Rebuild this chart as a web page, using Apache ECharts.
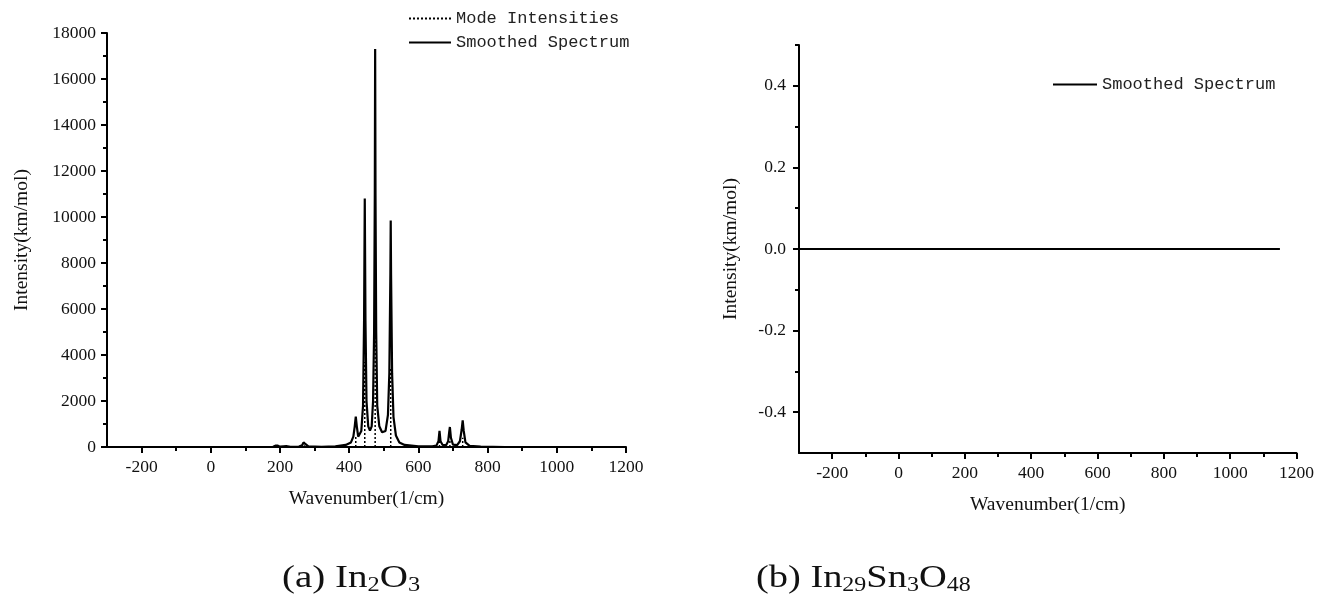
<!DOCTYPE html>
<html>
<head>
<meta charset="utf-8">
<script src="https://cdn.jsdelivr.net/npm/echarts@6/dist/echarts.min.js"></script>
<style>html,body{margin:0;padding:0;background:#fff}#c{width:1317px;height:614px}</style>
</head>
<body>
<div id="c"></div>
<script>
// ---- data (a) In2O3 ----
const specX = [-300,150,180,188,191,194,200,210,215,218,230,255,264,268,271,274,282,320,360,390,405,412,416,419,422,426,430,435,440,443,445,447,450,455,460,465,469,472,474,475,476,478,481,487,495,505,512,516,519,520,521,524,528,535,545,560,600,640,652,658,661,664,670,680,686,689,691,694,700,712,720,725,728,731,736,748,780,850,1150];
const specY = [0,0,10,60,100,60,15,30,80,40,10,20,80,200,220,120,30,10,30,90,200,450,900,1320,900,450,400,700,1800,5500,10800,5500,2000,900,710,900,2000,5000,11000,17300,11000,5000,1800,900,640,700,1400,3200,7500,9850,7500,3200,1300,500,200,90,30,30,60,250,700,250,90,80,250,650,870,400,100,80,250,750,1160,700,200,50,15,0,0];
const modeX = [191, 215, 271, 419, 445, 475, 520, 661, 691, 728];
const modeY = [40, 30, 80, 450, 3700, 6000, 3400, 250, 300, 400];
// ---- data (b) In29Sn3O48 ----
const specBX = [-300, 0, 400, 800, 1150];
const specBY = [0, 0, 0, 0, 0];
// ---- ticks ----
const xMajor = [-200, 0, 200, 400, 600, 800, 1000, 1200];
const xMinor = [-100, 100, 300, 500, 700, 900, 1100];
const yBMajor = [-0.4, -0.2, 0, 0.2, 0.4];
const yBMinor = [-0.3, -0.1, 0.1, 0.3, 0.5];

const modeData = [];
modeX.forEach((x, i) => { modeData.push([x, 0], [x, modeY[i]], [x, null]); });

const serif = 'Liberation Serif';
const mono = 'Liberation Mono';
const lbl = {color: '#111', fontFamily: serif, fontSize: 17.5};
const axLine = {show: true, onZero: false, lineStyle: {color: '#000', width: 2}};
const nameStyle = {color: '#111', fontFamily: serif, fontSize: 19.5};

function xMain(grid) {
  return {type: 'value', gridIndex: grid, min: -300, max: 1200, position: 'bottom',
    name: 'Wavenumber(1/cm)', nameLocation: 'middle', nameGap: 42,
    nameTextStyle: nameStyle,
    axisLine: axLine, splitLine: {show: false},
    axisTick: {show: true, inside: false, length: 6, customValues: xMajor, lineStyle: {color: '#000', width: 2}},
    axisLabel: {customValues: xMajor, margin: 11, formatter: v => String(v), ...lbl}};
}
function xMinorAx(grid) {
  return {type: 'value', gridIndex: grid, min: -300, max: 1200, position: 'bottom', offset: 0,
    axisLine: {show: false, onZero: false}, splitLine: {show: false},
    axisTick: {show: true, length: 4, customValues: xMinor, lineStyle: {color: '#000', width: 2}},
    axisLabel: {show: false}};
}

const option = {
  animation: false,
  backgroundColor: '#fff',
  grid: [
    {left: 107, right: 691, top: 33, bottom: 167},
    {left: 799, right: 19, top: 45, bottom: 161}
  ],
  legend: [
    {data: ['Mode Intensities', 'Smoothed Spectrum'], orient: 'vertical', left: 403, top: 5,
      itemWidth: 42, itemHeight: 14, itemGap: 7, itemStyle: {color: 'transparent', borderWidth: 0, opacity: 0},
      textStyle: {fontFamily: mono, fontSize: 17, color: '#222'}},
    {data: ['Smoothed Spectrum'], orient: 'vertical', left: 1047, top: 71,
      itemWidth: 44, itemHeight: 14, itemStyle: {color: 'transparent', borderWidth: 0, opacity: 0},
      textStyle: {fontFamily: mono, fontSize: 17, color: '#222'}}
  ],
  xAxis: [xMain(0), xMinorAx(0), xMain(1), xMinorAx(1)],
  yAxis: [
    {type: 'value', gridIndex: 0, min: 0, max: 18000, interval: 2000,
      name: 'Intensity(km/mol)', nameLocation: 'middle', nameGap: 75,
      nameTextStyle: nameStyle,
      axisLine: axLine, splitLine: {show: false},
      axisTick: {show: true, length: 6, lineStyle: {color: '#000', width: 2}},
      minorTick: {show: true, splitNumber: 2, length: 4, lineStyle: {color: '#000', width: 2}},
      axisLabel: {margin: 11, formatter: v => String(v), ...lbl}},
    {type: 'value', gridIndex: 1, min: -0.5, max: 0.5, position: 'left',
      name: 'Intensity(km/mol)', nameLocation: 'middle', nameGap: 58,
      nameTextStyle: nameStyle,
      axisLine: axLine, splitLine: {show: false},
      axisTick: {show: true, length: 6, customValues: yBMajor, lineStyle: {color: '#000', width: 2}},
      axisLabel: {margin: 13, customValues: yBMajor, formatter: v => v.toFixed(1), ...lbl}},
    {type: 'value', gridIndex: 1, min: -0.5, max: 0.5, position: 'left', offset: 0,
      axisLine: {show: false, onZero: false}, splitLine: {show: false},
      axisTick: {show: true, length: 4, customValues: yBMinor, lineStyle: {color: '#000', width: 2}},
      axisLabel: {show: false}}
  ],
  series: [
    {name: 'Mode Intensities', type: 'line', xAxisIndex: 0, yAxisIndex: 0, symbol: 'none',
      connectNulls: false, data: modeData, z: 2,
      lineStyle: {color: '#000', width: 1.5, type: [2, 2]}, itemStyle: {color: '#000'}},
    {name: 'Smoothed Spectrum', type: 'line', xAxisIndex: 0, yAxisIndex: 0, symbol: 'none',
      data: specX.map((x, i) => [x, specY[i]]), z: 3,
      lineStyle: {color: '#000', width: 2.2}, itemStyle: {color: '#000'}},
    {name: 'Smoothed Spectrum', type: 'line', xAxisIndex: 2, yAxisIndex: 1, symbol: 'none',
      data: specBX.map((x, i) => [x, specBY[i]]),
      lineStyle: {color: '#000', width: 2}, itemStyle: {color: '#000'}}
  ],
  graphic: [
    {type: 'text', x: 282, y: 562, scaleX: 1.22, style: {
      text: '{m|(a) In}{s|2}{m|O}{s|3}', fill: '#111',
      rich: {m: {fontFamily: serif, fontSize: 32, fill: '#111'}, s: {fontFamily: serif, fontSize: 20, fill: '#111', padding: [14, 0, 0, 0]}}}},
    {type: 'text', x: 756, y: 562, scaleX: 1.2, style: {
      text: '{m|(b) In}{s|29}{m|Sn}{s|3}{m|O}{s|48}', fill: '#111',
      rich: {m: {fontFamily: serif, fontSize: 32, fill: '#111'}, s: {fontFamily: serif, fontSize: 20, fill: '#111', padding: [14, 0, 0, 0]}}}}
  ]
};
const chart = echarts.init(document.getElementById('c'), null, {renderer: 'canvas'});
chart.setOption(option);
</script>
</body>
</html>
